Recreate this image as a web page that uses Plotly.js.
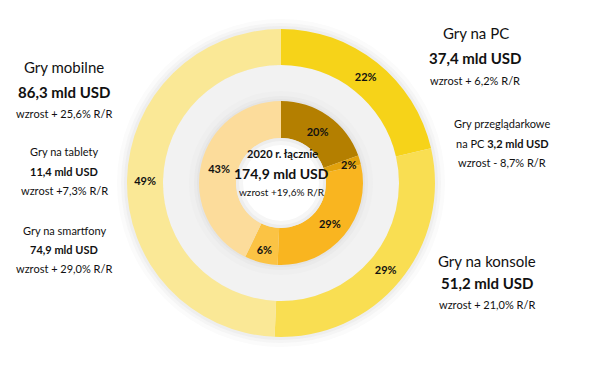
<!DOCTYPE html>
<html><head><meta charset="utf-8">
<script src="https://cdn.plot.ly/plotly-3.0.1.min.js"></script>
<style>html,body{margin:0;padding:0;background:#fff}#chart{width:595px;height:366px}</style>
</head><body><div id="chart"></div>
<script>
// Outer ring: segments
const outerLabels = ["Gry na PC", "Gry na konsole", "Gry mobilne"];
const outerValues = [37.4, 51.2, 86.3];
const outerPct = ["22%", "29%", "49%"];
const outerColors = ["#F6D319", "#F9DE52", "#FAE896"];

// Inner ring: sub-segments
const innerLabels = ["Gry na PC (pobierane/pudełkowe)", "Gry przeglądarkowe na PC", "Gry na konsole", "Gry na tablety", "Gry na smartfony"];
const innerValues = [34.2, 3.2, 51.2, 11.4, 74.9];
const innerPct = ["20%", "2%", "29%", "6%", "43%"];
const innerColors = ["#B47F00", "#E2A20C", "#F9B520", "#FBC344", "#FCDC9B"];

const W = 595, H = 366, CX = 281, CY = 183;
const R_OUT = 154, R_IN = 82;
function dom(r){ return {x:[(CX-r)/W,(CX+r)/W], y:[(H-CY-r)/H,(H-CY+r)/H]}; }

const font = "Lato, 'Open Sans', sans-serif";

// the thin 2% slice label is too small to fit inside; it is drawn as an annotation instead
const innerText = innerPct.map(function(t, i){ return innerValues[i] < 5 ? "" : t; });

const traces = [
  {type:"pie", values: outerValues, labels: outerLabels, text: outerPct, textinfo:"text",
   sort:false, direction:"clockwise", rotation:0, hole:118/154, domain: dom(R_OUT),
   marker:{colors: outerColors, line:{width:0}}, textposition:"inside", insidetextorientation:"horizontal",
   textfont:{family:font, size:11, color:"#111", weight:700}, hoverinfo:"label+value", showlegend:false},
  {type:"pie", values: innerValues, labels: innerLabels, text: innerText, textinfo:"text",
   sort:false, direction:"clockwise", rotation:0, hole:45/82, domain: dom(R_IN),
   marker:{colors: innerColors, line:{width:0}}, textposition:"inside", insidetextorientation:"horizontal",
   textfont:{family:font, size:11, color:"#111", weight:700}, hoverinfo:"label+value", showlegend:false}
];

function circ(r, fill, layer){
  return {type:"circle", layer: layer || "below", xref:"paper", yref:"paper", xsizemode:"pixel", ysizemode:"pixel",
    xanchor: CX/W, yanchor: (H-CY)/H, x0:-r, x1:r, y0:-r, y1:r, fillcolor: fill, line:{width:0}};
}
const shapes = [
  circ(164, "#FBFBFB"), circ(160, "#F5F5F5"), circ(157, "#EEEEEE"),
  circ(118, "#F2F2F2"), circ(92, "#EFEFEF"), circ(87, "#EAEAEA"), circ(84, "#E4E4E4"),
  circ(45, "#EDEDED", "above"), circ(42, "#F6F6F6", "above"), circ(38, "#FFFFFF", "above")
];

function ann(x, y, text, size, bold){
  return {xref:"paper", yref:"paper", x: x/W, y: 1 - y/H, xanchor:"center", yanchor:"middle",
    text: bold ? "<b>"+text+"</b>" : text, showarrow:false,
    font:{family:font, size:size, color:"#111"}};
}
const annotations = [
  ann(64, 67, "Gry mobilne", 15),
  ann(64, 92, "86,3 mld USD", 15, true),
  ann(64, 113, "wzrost + 25,6% R/R", 11),
  ann(64, 151, "Gry na tablety", 11),
  ann(64, 171, "11,4 mld USD", 11, true),
  ann(64, 190, "wzrost +7,3% R/R", 11),
  ann(64, 230, "Gry na smartfony", 11),
  ann(64, 249, "74,9 mld USD", 11, true),
  ann(64, 268, "wzrost + 29,0% R/R", 11),
  ann(476, 33, "Gry na PC", 15),
  ann(475, 58, "37,4 mld USD", 15, true),
  ann(475, 80, "wzrost + 6,2% R/R", 11),
  ann(502, 124, "Gry przeglądarkowe", 11),
  ann(502, 143, "na PC <b>3,2 mld USD</b>", 11),
  ann(502, 163, "wzrost - 8,7% R/R", 11),
  ann(487, 261, "Gry na konsole", 15),
  ann(487, 283, "51,2 mld USD", 15, true),
  ann(487, 304, "wzrost + 21,0% R/R", 11),
  ann(282, 153, "2020 r. łącznie", 11, true),
  ann(281, 173, "174,9 mld USD", 14, true),
  ann(282, 192, "wzrost +19,6% R/R", 10),
  ann(348, 165, innerPct[1], 11, true)
];

Plotly.newPlot("chart", traces, {
  width: W, height: H, margin:{l:0,r:0,t:0,b:0},
  paper_bgcolor:"#FFFFFF", plot_bgcolor:"#FFFFFF",
  shapes: shapes, annotations: annotations, showlegend:false
}, {displayModeBar:false, staticPlot:true});
</script></body></html>
